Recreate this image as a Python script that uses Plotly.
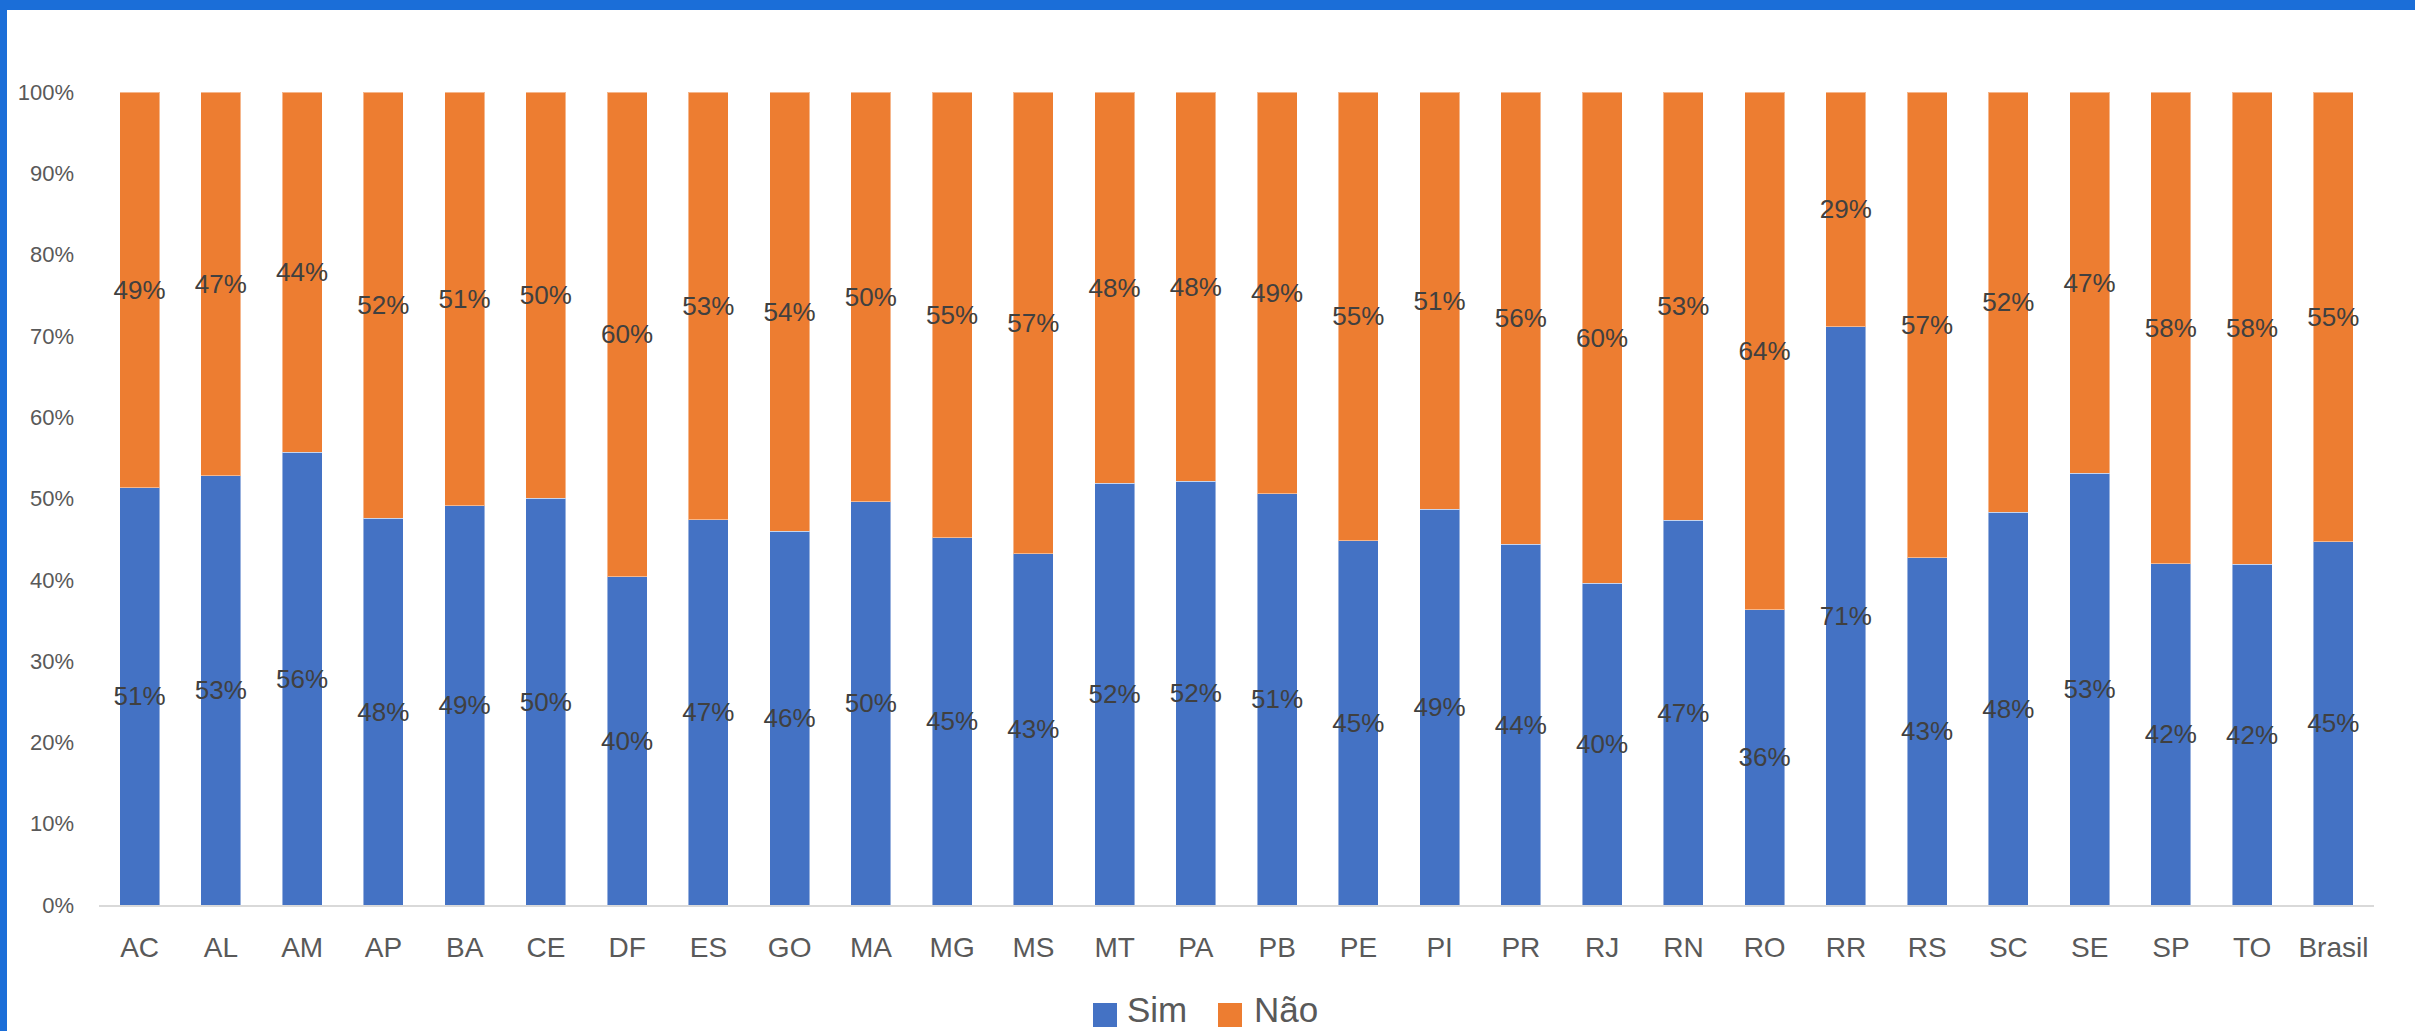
import plotly.graph_objects as go

categories = ["AC", "AL", "AM", "AP", "BA", "CE", "DF", "ES", "GO", "MA", "MG", "MS", "MT", "PA",
              "PB", "PE", "PI", "PR", "RJ", "RN", "RO", "RR", "RS", "SC", "SE", "SP", "TO", "Brasil"]
sim = [0.513, 0.528, 0.557, 0.476, 0.491, 0.5005, 0.404, 0.474, 0.460, 0.496, 0.452, 0.432, 0.519, 0.521,
       0.506, 0.448, 0.487, 0.444, 0.396, 0.473, 0.363, 0.711, 0.427, 0.483, 0.531, 0.420, 0.419, 0.447]
nao = [0.487, 0.472, 0.443, 0.524, 0.509, 0.4995, 0.596, 0.526, 0.540, 0.504, 0.548, 0.568, 0.481, 0.479,
       0.494, 0.552, 0.513, 0.556, 0.604, 0.527, 0.637, 0.289, 0.573, 0.517, 0.469, 0.580, 0.581, 0.553]
series_names = ["Sim", "Não"]
y_ticks = [0, 0.1, 0.2, 0.3, 0.4, 0.5, 0.6, 0.7, 0.8, 0.9, 1.0]

BLUE = "#4472C4"
ORANGE = "#ED7D31"
FONT = "Liberation Sans"

W, H = 2415, 1031
L, R, T, B = 99, 41, 92, 126
PW, PH = W - L - R, H - T - B


def px_x(px):
    return (px - L) / PW


def px_y(py):
    return (H - B - py) / PH


fig = go.Figure()
for name, vals, col in [(series_names[0], sim, BLUE), (series_names[1], nao, ORANGE)]:
    fig.add_trace(go.Bar(
        x=categories, y=vals, name=name,
        marker=dict(color=col, line=dict(color="rgba(255,255,255,0.45)", width=1)),
        texttemplate="%{y:.0%}", textposition="inside", insidetextanchor="middle",
        textangle=0, constraintext="none",
        insidetextfont=dict(family=FONT, size=26, color="#404040"),
        showlegend=False, hoverinfo="skip",
    ))

shapes = [
    # window frame
    dict(type="rect", xref="paper", yref="paper", x0=px_x(0), x1=px_x(W), y0=px_y(10), y1=px_y(0),
         fillcolor="#1B6ED8", line=dict(width=0), layer="above"),
    dict(type="rect", xref="paper", yref="paper", x0=px_x(0), x1=px_x(7), y0=px_y(H), y1=px_y(0),
         fillcolor="#1B6ED8", line=dict(width=0), layer="above"),
    # legend swatches
    dict(type="rect", xref="paper", yref="paper", x0=px_x(1093), x1=px_x(1117), y0=px_y(1027), y1=px_y(1003),
         fillcolor=BLUE, line=dict(width=0)),
    dict(type="rect", xref="paper", yref="paper", x0=px_x(1218), x1=px_x(1242), y0=px_y(1027), y1=px_y(1003),
         fillcolor=ORANGE, line=dict(width=0)),
]
annotations = [
    dict(text=series_names[0], xref="paper", yref="paper", x=px_x(1126), y=px_y(1030), xanchor="left",
         yanchor="bottom", showarrow=False, borderpad=0,
         font=dict(family=FONT, size=35, color="#595959")),
    dict(text=series_names[1], xref="paper", yref="paper", x=px_x(1253), y=px_y(1030), xanchor="left",
         yanchor="bottom", showarrow=False, borderpad=0,
         font=dict(family=FONT, size=35, color="#595959")),
]

fig.update_layout(
    width=W, height=H,
    margin=dict(l=L, r=R, t=T, b=B, pad=0),
    barmode="stack", bargap=0.508,
    plot_bgcolor="white", paper_bgcolor="white",
    font=dict(family=FONT, color="#595959"),
    shapes=shapes, annotations=annotations,
    showlegend=False,
    xaxis=dict(showgrid=False, zeroline=False, showline=True, linecolor="#D9D9D9", linewidth=2,
               ticks="", tickfont=dict(family=FONT, size=28, color="#595959"), ticklabelstandoff=16,
               fixedrange=True),
    yaxis=dict(range=[0, 1], tickvals=y_ticks, tickformat=".0%", showgrid=False, zeroline=False,
               showline=False, ticks="", tickfont=dict(family=FONT, size=22, color="#595959"),
               ticklabelstandoff=24, fixedrange=True),
)

fig.write_html("out.html", config={"displayModeBar": False},
               post_script="document.body.style.margin='0px';document.body.style.overflow='hidden';")
